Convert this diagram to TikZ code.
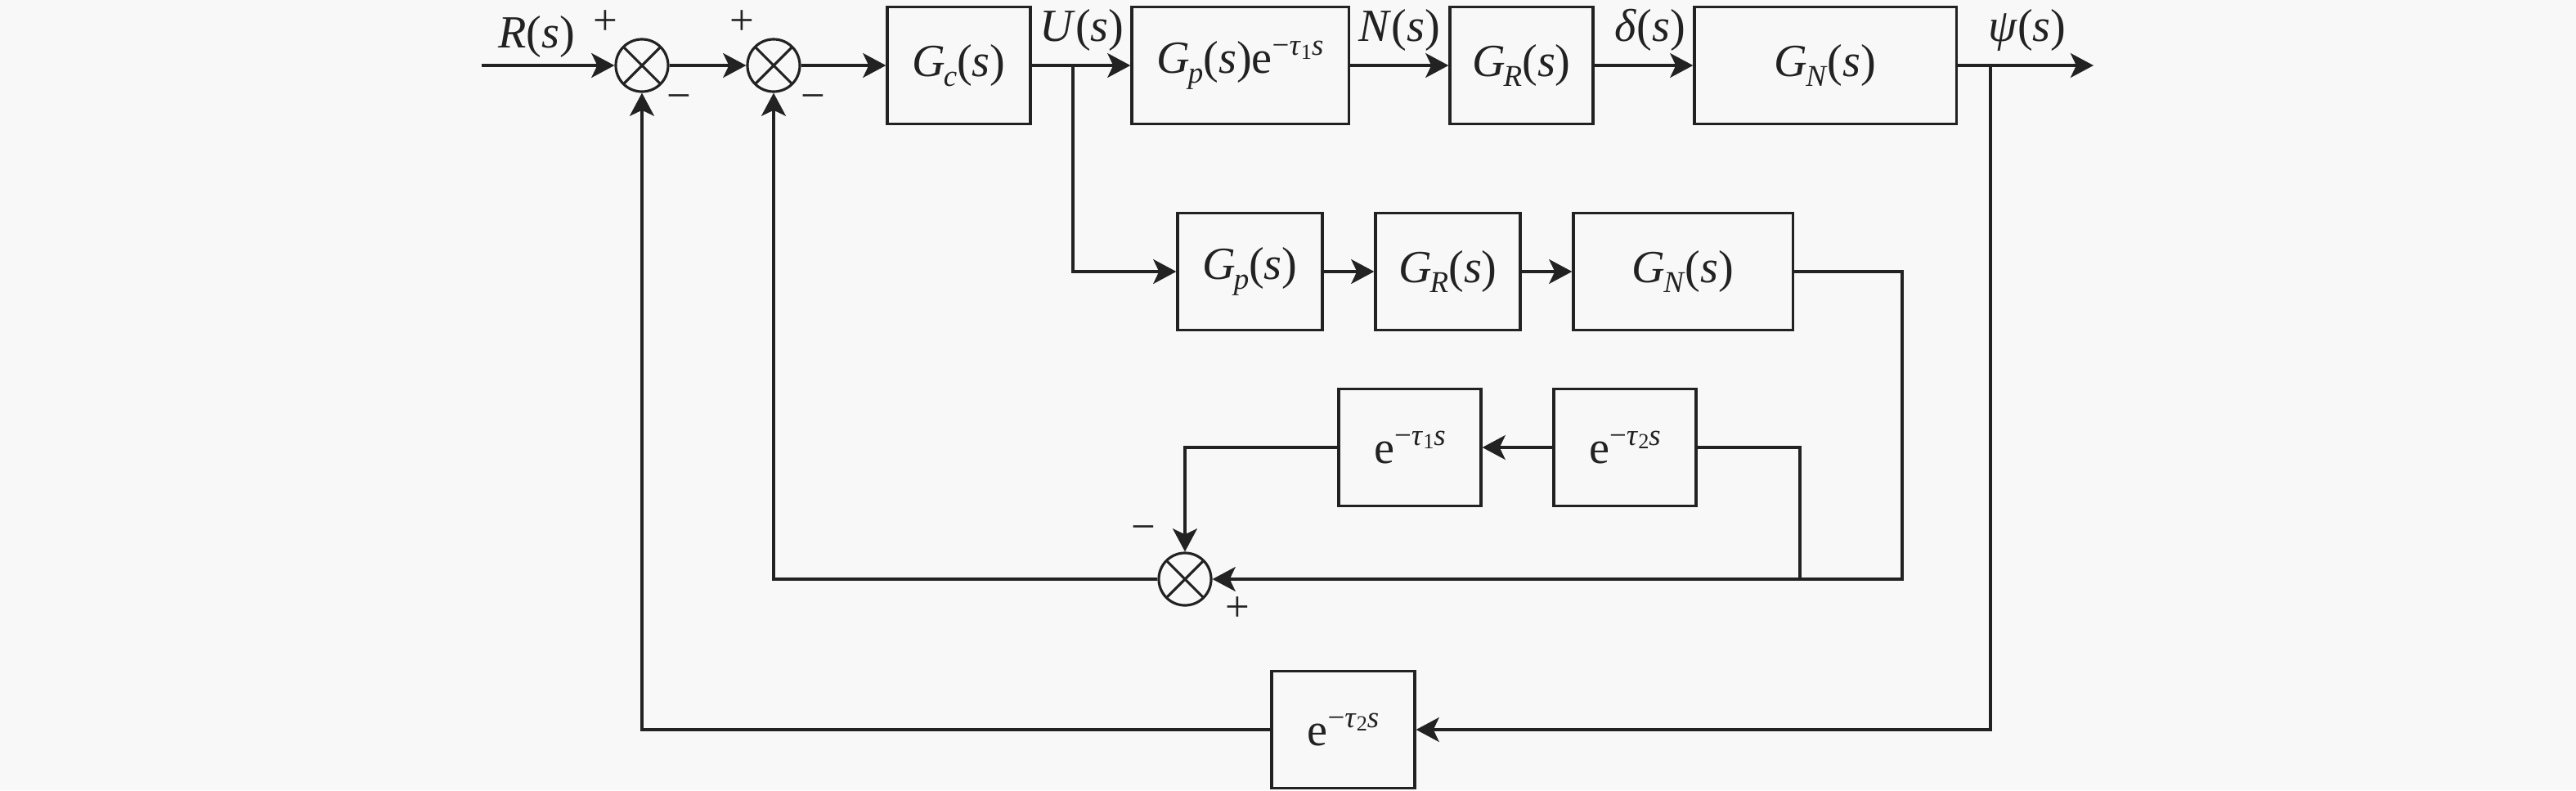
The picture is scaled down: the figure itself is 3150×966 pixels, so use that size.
\documentclass[tikz,border=0pt]{standalone}
\usepackage{fontspec}
\setmainfont{Liberation Serif}
\usetikzlibrary{arrows.meta,calc}
\definecolor{bg}{RGB}{248,248,248}
\definecolor{ink}{RGB}{34,34,34}
\newcommand\subx[1]{\raisebox{-0.45ex}{\fontsize{10.5}{10.5}\selectfont #1}}
\newcommand\expx[1]{\raisebox{0.85ex}{\fontsize{10.5}{10.5}\selectfont #1}}
\newcommand\Gf[1]{\textit{G}\kern-0.04em\subx{\textit{#1}}(\textit{s})}
\newcommand\etau[1]{e\expx{−\textit{τ}\raisebox{-0.25ex}{\fontsize{7.5}{7.5}\selectfont #1}\textit{s}}}
\begin{document}
\begin{tikzpicture}[x=0.01cm,y=-0.01cm,
  blk/.style={draw=ink, line width=0.9pt, minimum height=1.43cm, inner sep=0pt, text=ink, font=\fontsize{16}{16}\selectfont},
  sumn/.style={circle, draw=ink, line width=0.9pt, minimum size=0.64cm, inner sep=0pt,
    path picture={\draw[ink, line width=0.9pt] (path picture bounding box.south west) -- (path picture bounding box.north east) (path picture bounding box.north west) -- (path picture bounding box.south east);}},
  sig/.style={draw=ink, line width=0.9pt, -{Stealth[length=8pt,width=8.5pt,inset=2pt]}},
  wire/.style={draw=ink, line width=0.9pt},
  lbl/.style={font=\fontsize{16}{16}\selectfont, text=ink, inner sep=0pt},
  sgn/.style={font=\fontsize{15}{15}\selectfont, text=ink, inner sep=0pt}]
\fill[bg] (0,0) rectangle (3150,966);
% nodes
\node[sumn] (s1) at (785,80) {};
\node[sumn] (s2) at (946,80) {};
\node[blk, minimum width=1.75cm] (gc) at (1172.5,80) {\Gf{c}};
\node[blk, minimum width=2.65cm] (gpe) at (1516.5,80) {\Gf{p}\etau{1}};
\node[blk, minimum width=1.75cm] (gr) at (1860.5,80) {\Gf{R}};
\node[blk, minimum width=3.2cm] (gn) at (2232,80) {\Gf{N}};
\node[blk, minimum width=1.77cm] (gp2) at (1528.5,332) {\Gf{p}};
\node[blk, minimum width=1.77cm] (gr2) at (1770.5,332) {\Gf{R}};
\node[blk, minimum width=2.68cm] (gn2) at (2058,332) {\Gf{N}};
\node[blk, minimum width=1.74cm] (d1) at (1724,547) {\etau{1}};
\node[blk, minimum width=1.74cm] (d2) at (1987,547) {\etau{2}};
\node[sumn] (s3) at (1449,708) {};
\node[blk, minimum width=1.75cm] (d3) at (1642.5,892) {\etau{2}};
% coordinates
\coordinate (in) at (589,80);
\coordinate (out) at (2560,80);
\coordinate (bu) at (1312,80);
\coordinate (bpsi) at (2434,80);
\coordinate (c1) at (2326,332);
\coordinate (c2) at (2326,708);
\coordinate (c3) at (2201,708);
% connectors
\draw[sig] (in) -- (s1);
\draw[sig] (s1) -- (s2);
\draw[sig] (s2) -- (gc);
\draw[sig] (gc) -- (gpe);
\draw[sig] (gpe) -- (gr);
\draw[sig] (gr) -- (gn);
\draw[sig] (gn) -- (out);
\draw[sig] (bu) |- (gp2);
\draw[sig] (gp2) -- (gr2);
\draw[sig] (gr2) -- (gn2);
\draw[sig] (gn2.east) -- (c1) -- (c2) -- (s3.east);
\draw[wire] (c3) |- (d2.east);
\draw[sig] (d2) -- (d1);
\draw[sig] (d1.west) -| (s3.north);
\draw[sig] (s3.west) -| (s2.south);
\draw[sig] (bpsi) |- (d3.east);
\draw[sig] (d3.west) -| (s1.south);
% labels
\node[lbl] (lr) at (656,45) {\textit{R}(\textit{s})};
\node[lbl] (lu) at (1323,37) {\textit{U}(\textit{s})};
\node[lbl] (ln) at (1711,37) {\textit{N}(\textit{s})};
\node[lbl] (ld) at (2018,37) {\textit{δ}(\textit{s})};
\node[lbl] (lp) at (2479,37) {\textit{ψ}(\textit{s})};
% signs
\node[sgn] (p1) at (740,28) {+};
\node[sgn] (m1) at (830,125) {−};
\node[sgn] (p2) at (907,28) {+};
\node[sgn] (m2) at (994,125) {−};
\node[sgn] (m3) at (1398,652) {−};
\node[sgn] (p3) at (1513,745) {+};
\end{tikzpicture}
\end{document}
